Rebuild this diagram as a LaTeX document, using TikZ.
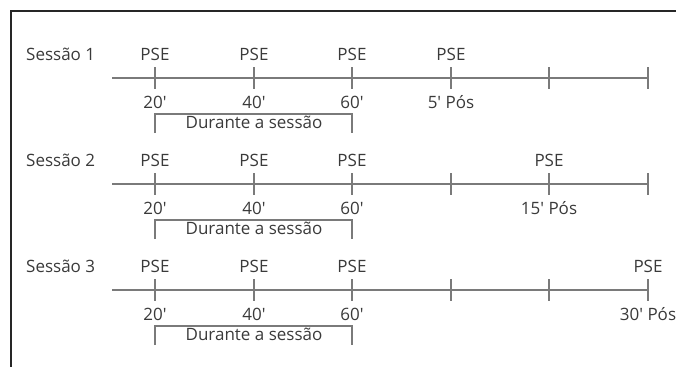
\documentclass[tikz,border=0pt]{standalone}
\usepackage{fontspec}
\setmainfont{Open Sans}
\usepackage{xcolor}
\usetikzlibrary{positioning, calc}

\definecolor{axisgray}{HTML}{7A7A7A}
\definecolor{textgray}{HTML}{3A3A3A}
\newcommand{\mn}{\textquotesingle}

\begin{document}
\begin{tikzpicture}[
  x=1pt, y=-1pt,
  axis/.style={draw=axisgray, line width=2.2pt},
  tickmark/.style={draw=axisgray, line width=2.2pt},
  bracketline/.style={draw=axisgray, line width=1.6pt},
  lbl/.style={font=\fontsize{17}{20}\selectfont, text=textgray, inner sep=0pt, anchor=base},
  sessionlbl/.style={lbl, anchor=base west}
]
\useasboundingbox (0,0) rectangle (676,367);
% Frame
\draw[black!85, line width=1.4pt] (676,11) -- (11,11) -- (11,367);

% Three sessions
\foreach \r/\k/\post in {1/3/5, 2/4/15, 3/5/30} {
  \pgfmathsetmacro{\ly}{78+106*(\r-1)}
  % time points
  \foreach \i/\tx in {0/155, 1/254, 2/352, 3/451, 4/549, 5/648} {
    \coordinate (s\r t\i) at (\tx, \ly);
  }
  \coordinate (s\r start) at (112, \ly);
  \node[sessionlbl] (s\r name) at (26, \ly-18) {Sessão \r};
  % timeline and ticks
  \draw[axis] (s\r start) -- (s\r t5);
  \foreach \i in {0,...,5} {
    \draw[tickmark] ($(s\r t\i)+(0,-11)$) -- ($(s\r t\i)+(0,11)$);
  }
  % PSE labels
  \foreach \i in {0,1,2,\k} {
    \node[lbl] (s\r pse\i) at ($(s\r t\i)+(0,-18)$) {PSE};
  }
  % minutes
  \node[lbl] (s\r m0) at ($(s\r t0)+(0,30)$) {20\mn};
  \node[lbl] (s\r m1) at ($(s\r t1)+(0,30)$) {40\mn};
  \node[lbl] (s\r m2) at ($(s\r t2)+(0,30)$) {60\mn};
  \node[lbl] (s\r post) at ($(s\r t\k)+(0,30)$) {\post\mn{} Pós};
  % bracket
  \draw[bracketline] ($(s\r t0)+(0,55)$) -- ($(s\r t0)+(0,36)$) -- ($(s\r t2)+(0,36)$) -- ($(s\r t2)+(0,55)$);
  \node[lbl] (s\r during) at ($(s\r t1)+(0,50)$) {Durante a sessão};
}
\end{tikzpicture}
\end{document}
